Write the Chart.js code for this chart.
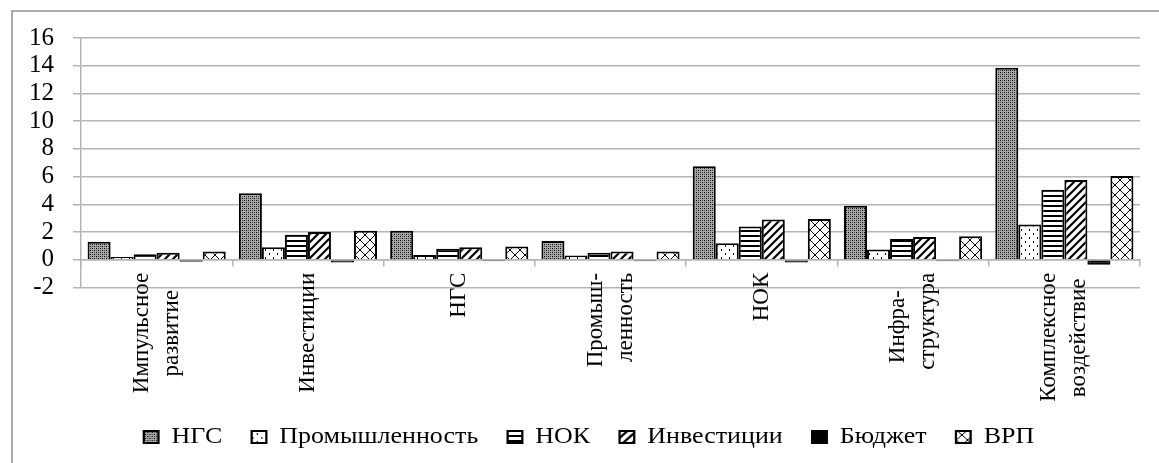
<!DOCTYPE html>
<html>
<head>
<meta charset="utf-8">
<script src="https://cdn.jsdelivr.net/npm/chart.js@4.4.1/dist/chart.umd.min.js"></script>
<style>
  html, body { margin: 0; padding: 0; background: #fff; }
  canvas { display: block; }
</style>
</head>
<body>
<canvas id="chart" width="1159" height="463"></canvas>
<script>
// Category tick labels (rotated, split into lines; trailing spaces centre the shorter line)
const tickLabels = [
  ['Импульсное', 'развитие   '],
  ['', 'Инвестиции'],
  ['', 'НГС'],
  ['Промыш-', 'ленность'],
  ['', 'НОК'],
  ['Инфра-   ', 'структура'],
  ['Комплексное', 'воздействие ']
];

// Series names
const seriesNames = ['НГС', 'Промышленность', 'НОК', 'Инвестиции', 'Бюджет', 'ВРП'];

// Series values, one entry per category
const ngsValues      = [1.3, 4.8, 2.1, 1.35, 6.75, 3.9, 13.85];
const industryValues = [0.2, 0.9, 0.35, 0.3, 1.2, 0.75, 2.55];
const nokValues      = [0.4, 1.8, 0.8, 0.5, 2.4, 1.5, 5.05];
const investValues   = [0.5, 2.0, 0.9, 0.6, 2.9, 1.65, 5.75];
const budgetValues   = [-0.15, -0.2, -0.1, -0.1, -0.2, -0.1, -0.35];
const grpValues      = [0.6, 2.1, 0.95, 0.6, 2.95, 1.7, 6.05];

// Value axis ticks
const yMin = -2, yMax = 16, yStep = 2;

// ---- hatch fills ----
function makePattern(w, h, paint) {
  const tile = document.createElement('canvas');
  tile.width = w; tile.height = h;
  const g = tile.getContext('2d');
  g.fillStyle = '#fff';
  g.fillRect(0, 0, w, h);
  paint(g, w, h);
  return g.createPattern(tile, 'repeat');
}

const fillDotted = makePattern(4, 4, (g) => {
  g.fillStyle = '#a8a8a8'; g.fillRect(0, 0, 4, 4);
  g.fillStyle = '#000'; g.fillRect(0, 0, 1, 1); g.fillRect(2, 2, 1, 1);
  g.fillStyle = '#4a4a4a'; g.fillRect(2, 0, 1, 1); g.fillRect(0, 2, 1, 1);
});
const fillSparseDash = makePattern(8, 8, (g) => {
  g.fillStyle = '#000';
  g.fillRect(1, 1, 1, 2); g.fillRect(5, 5, 1, 2);
});
const fillHorizontal = makePattern(8, 5, (g) => {
  g.fillStyle = '#000'; g.fillRect(0, 0, 8, 2);
});
const fillDiagonal = makePattern(8, 8, (g) => {
  g.strokeStyle = '#000'; g.lineWidth = 2.2;
  g.beginPath();
  g.moveTo(-2, 10); g.lineTo(10, -2);
  g.moveTo(-6, 6); g.lineTo(6, -6);
  g.moveTo(2, 14); g.lineTo(14, 2);
  g.stroke();
});
const fillCross = makePattern(10, 10, (g) => {
  g.strokeStyle = '#000'; g.lineWidth = 1;
  g.beginPath();
  g.moveTo(0, 0); g.lineTo(10, 10);
  g.moveTo(10, 0); g.lineTo(0, 10);
  g.stroke();
});

const fills = [fillDotted, fillSparseDash, fillHorizontal, fillDiagonal, '#000', fillCross];
const seriesValues = [ngsValues, industryValues, nokValues, investValues, budgetValues, grpValues];

const datasets = seriesNames.map((name, i) => ({
  label: name,
  data: seriesValues[i],
  xAxisID: 'x',
  yAxisID: 'y',
  backgroundColor: fills[i],
  borderColor: '#000',
  borderWidth: 2,
  categoryPercentage: 0.913,
  barPercentage: 1.0
}));

const gridGrey = '#b4b4b4';
const serif = 'Liberation Serif, Times New Roman, serif';

// Thin grey frame along the top and left edges
const framePlugin = {
  id: 'frame',
  beforeDraw(chart) {
    const ctx = chart.ctx;
    ctx.save();
    ctx.strokeStyle = '#8e8e8e';
    ctx.lineWidth = 1.5;
    ctx.beginPath();
    ctx.moveTo(12, chart.height + 2);
    ctx.lineTo(12, 11);
    ctx.lineTo(chart.width + 2, 11);
    ctx.stroke();
    ctx.restore();
  }
};

// Legend text is set wide; stretch the legend row horizontally
const legendStretch = {
  id: 'legendStretch',
  beforeDraw(chart) {
    const lg = chart.legend;
    if (!lg || lg._wide) return;
    const baseDraw = lg.draw.bind(lg);
    lg.draw = function () {
      const ctx = chart.ctx;
      const cx = (lg.left + lg.right) / 2;
      ctx.save();
      ctx.translate(cx + 14, 0);
      ctx.scale(1.13, 1);
      ctx.translate(-cx, 0);
      baseDraw();
      ctx.restore();
    };
    lg._wide = true;
  }
};

// rotated labels must not widen the plot's side margins
const noSidePadding = (scale) => { scale.paddingLeft = 0; scale.paddingRight = 0; };

new Chart(document.getElementById('chart'), {
  type: 'bar',
  data: { labels: tickLabels, datasets },
  options: {
    responsive: false,
    animation: false,
    devicePixelRatio: 1,
    layout: { padding: { left: 10, right: 19, top: 38, bottom: 4.5 } },
    plugins: {
      tooltip: { enabled: false },
      legend: {
        position: 'bottom',
        labels: {
          color: '#000',
          font: { family: serif, size: 23 },
          boxWidth: 13,
          boxHeight: 12,
          padding: 26
        }
      }
    },
    scales: {
      // category axis drawn along the zero line: boundary ticks and rotated labels
      x: {
        axis: 'x',
        type: 'category',
        position: { y: 0 },
        offset: true,
        grid: {
          offset: true,
          drawOnChartArea: false,
          drawTicks: true,
          tickLength: 6,
          tickColor: gridGrey,
          lineWidth: 1.5
        },
        border: { display: true, color: gridGrey, width: 1.5 },
        ticks: {
          autoSkip: false,
          minRotation: 90,
          maxRotation: 90,
          padding: 7,
          labelOffset: -15,
          color: '#000',
          font: (c) => ({
            family: serif,
            size: 23,
            lineHeight: (tickLabels[c.index] && tickLabels[c.index][0] === '') ? '15px' : '30px'
          })
        },
        afterFit: noSidePadding
      },
      // bottom band reserved for the rotated labels above the legend
      xBand: {
        axis: 'x',
        type: 'category',
        position: 'bottom',
        offset: true,
        grid: { display: false, drawTicks: false },
        border: { display: false },
        ticks: { display: false },
        afterFit(scale) { scale.height = 112; noSidePadding(scale); }
      },
      y: {
        min: yMin,
        max: yMax,
        ticks: {
          stepSize: yStep,
          autoSkip: false,
          crossAlign: 'near',
          color: '#000',
          padding: 19,
          font: { family: serif, size: 25 }
        },
        grid: { color: gridGrey, lineWidth: 1.5, tickLength: 8, tickColor: gridGrey },
        border: { display: true, color: gridGrey, width: 1.5 }
      }
    }
  },
  plugins: [framePlugin, legendStretch]
});
</script>
</body>
</html>
